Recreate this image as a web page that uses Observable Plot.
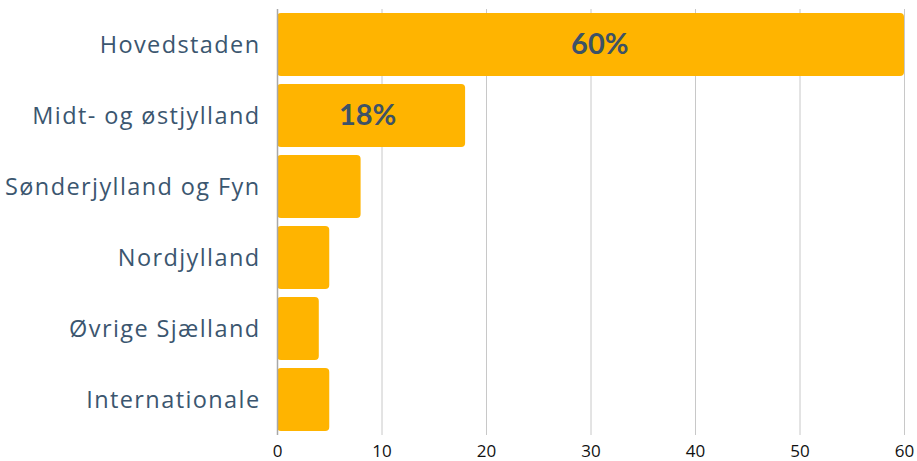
<!DOCTYPE html>
<html>
<head>
<meta charset="utf-8">
<script src="https://cdn.jsdelivr.net/npm/d3@7"></script>
<script src="https://cdn.jsdelivr.net/npm/@observablehq/plot@0.6"></script>
<style>
  html, body { margin: 0; padding: 0; background: #fff; }
  svg { display: block; }
  g[aria-label="y-axis tick label"] text { letter-spacing: 1.4px; }
</style>
</head>
<body>
<div id="chart"></div>
<script>
const regions = ["Hovedstaden", "Midt- og østjylland", "Sønderjylland og Fyn", "Nordjylland", "Øvrige Sjælland", "Internationale"];
const shares = [60, 18, 8, 5, 4, 5];
const xTicks = [0, 10, 20, 30, 40, 50, 60];
const labelMin = 10;

const data = regions.map((r, i) => ({region: r, value: shares[i]}));

const chart = Plot.plot({
  width: 917,
  height: 461,
  marginLeft: 277,
  marginRight: 13,
  marginTop: 9,
  marginBottom: 26,
  style: {fontFamily: "'Open Sans', sans-serif", background: "#fff"},
  x: {domain: [0, 60], ticks: xTicks, label: null},
  y: {domain: regions, label: null, paddingInner: 0.11, paddingOuter: 0.03},
  marks: [
    Plot.gridX(xTicks.filter(d => d > 0), {stroke: "#c8c8c8", strokeOpacity: 1, strokeWidth: 1}),
    Plot.barX(data, {x: "value", y: "region", fill: "#FFB400", rx: 4}),
    Plot.ruleX([0], {stroke: "#a8a8a8", strokeWidth: 1.5}),
    Plot.axisX({ticks: xTicks, tickSize: 0, tickPadding: 9, fontSize: 17, fill: "#111", label: null}),
    Plot.axisY({tickSize: 0, tickPadding: 17, fontSize: 23.5, fill: "#3b566f", label: null}),
    Plot.text(data.filter(d => d.value >= labelMin), {
      x: d => d.value * 0.529 - 0.9, y: "region", text: d => d.value + "%",
      fill: "#3d5266", fontSize: 29, fontWeight: "bold", fontFamily: "Lato, sans-serif"
    })
  ]
});
document.getElementById("chart").append(chart);
</script>
</body>
</html>
